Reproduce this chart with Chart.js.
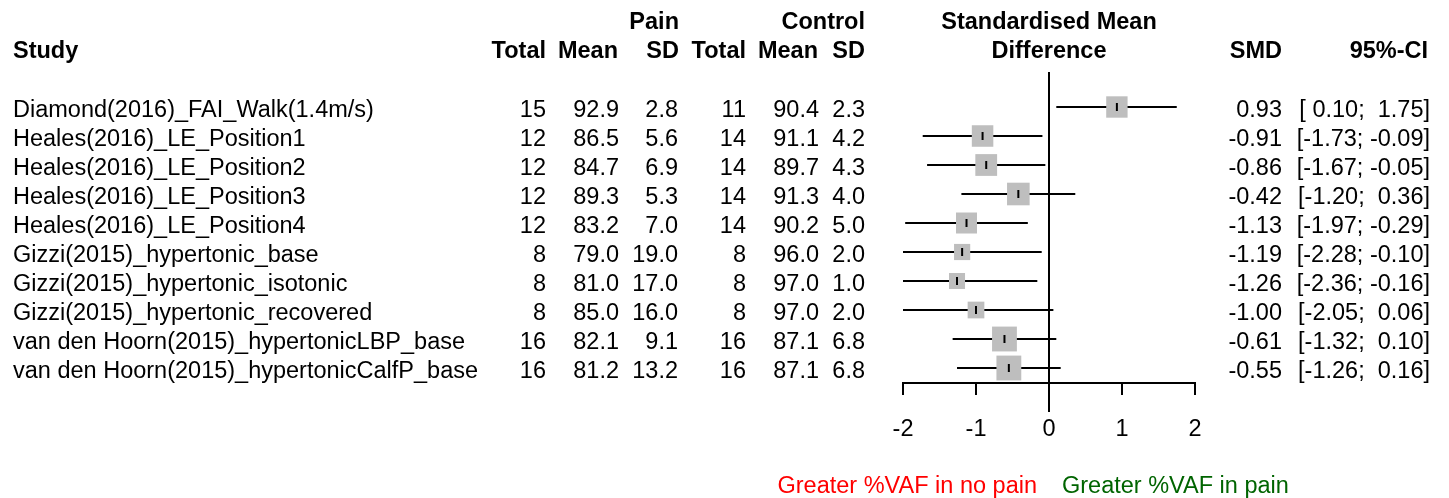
<!DOCTYPE html>
<html>
<head>
<meta charset="utf-8">
<script src="https://cdn.jsdelivr.net/npm/chart.js@4/dist/chart.umd.min.js"></script>
<style>
  html, body { margin: 0; padding: 0; background: #fff; }
  canvas { display: block; }
</style>
</head>
<body>
<canvas id="forest" width="1449" height="498"></canvas>
<script>
const studies = [
  "Diamond(2016)_FAI_Walk(1.4m/s)",
  "Heales(2016)_LE_Position1",
  "Heales(2016)_LE_Position2",
  "Heales(2016)_LE_Position3",
  "Heales(2016)_LE_Position4",
  "Gizzi(2015)_hypertonic_base",
  "Gizzi(2015)_hypertonic_isotonic",
  "Gizzi(2015)_hypertonic_recovered",
  "van den Hoorn(2015)_hypertonicLBP_base",
  "van den Hoorn(2015)_hypertonicCalfP_base"
];
const painTotal = [15, 12, 12, 12, 12, 8, 8, 8, 16, 16];
const painMean  = [92.9, 86.5, 84.7, 89.3, 83.2, 79.0, 81.0, 85.0, 82.1, 81.2];
const painSD    = [2.8, 5.6, 6.9, 5.3, 7.0, 19.0, 17.0, 16.0, 9.1, 13.2];
const ctlTotal  = [11, 14, 14, 14, 14, 8, 8, 8, 16, 16];
const ctlMean   = [90.4, 91.1, 89.7, 91.3, 90.2, 96.0, 97.0, 97.0, 87.1, 87.1];
const ctlSD     = [2.3, 4.2, 4.3, 4.0, 5.0, 2.0, 1.0, 2.0, 6.8, 6.8];
const smd       = [0.93, -0.91, -0.86, -0.42, -1.13, -1.19, -1.26, -1.00, -0.61, -0.55];
const ciLow     = [0.10, -1.73, -1.67, -1.20, -1.97, -2.28, -2.36, -2.05, -1.32, -1.26];
const ciHigh    = [1.75, -0.09, -0.05, 0.36, -0.29, -0.10, -0.16, 0.06, 0.10, 0.16];
const xTicks    = [-2, -1, 0, 1, 2];

const FONT = "23.5px 'Liberation Sans', Arial, sans-serif";
const BOLD = "bold 23.5px 'Liberation Sans', Arial, sans-serif";

// R-style padded number: positives get a leading space where the minus would be
const pad = (v) => (v < 0 ? "" : " ") + v.toFixed(2);

// box side ~ 1/SE, SE taken back from the 95% CI width
const boxRadius = (i) => {
  const se = (ciHigh[i] - ciLow[i]) / 3.92;
  return (9 / se) / Math.SQRT2;
};

const ciDatasets = studies.map((s, i) => ({
  data: [{ x: ciLow[i], y: i }, { x: ciHigh[i], y: i }],
  showLine: true,
  borderColor: "#000",
  borderWidth: 2,
  pointRadius: 0,
  order: 2
}));

const tablePlugin = {
  id: "table",
  afterDraw(chart) {
    const { ctx, chartArea } = chart;
    const y = chart.scales.y, x = chart.scales.x;
    ctx.save();
    ctx.fillStyle = "#000";

    // zero line, runs past the axis like base R
    const x0 = Math.round(x.getPixelForValue(0));
    ctx.strokeStyle = "#000";
    ctx.lineWidth = 2;
    ctx.beginPath();
    ctx.moveTo(x0, chartArea.top);
    ctx.lineTo(x0, chartArea.bottom + 29);
    ctx.stroke();

    const text = (str, px, py, align, font) => {
      ctx.font = font || FONT;
      ctx.textAlign = align;
      ctx.fillText(str, px, py);
    };

    // headers
    text("Pain", 679, 29, "right", BOLD);
    text("Control", 865, 29, "right", BOLD);
    text("Standardised Mean", x0, 29, "center", BOLD);
    text("Study", 13, 58, "left", BOLD);
    text("Total", 546, 58, "right", BOLD);
    text("Mean", 618, 58, "right", BOLD);
    text("SD", 679, 58, "right", BOLD);
    text("Total", 746, 58, "right", BOLD);
    text("Mean", 818, 58, "right", BOLD);
    text("SD", 865, 58, "right", BOLD);
    text("Difference", x0, 58, "center", BOLD);
    text("SMD", 1282, 58, "right", BOLD);
    text("95%-CI", 1428, 58, "right", BOLD);

    studies.forEach((s, i) => {
      const by = y.getPixelForValue(i) + 9.5;
      text(s, 13, by, "left");
      text(String(painTotal[i]), 546, by, "right");
      text(painMean[i].toFixed(1), 619, by, "right");
      text(painSD[i].toFixed(1), 678, by, "right");
      text(String(ctlTotal[i]), 746, by, "right");
      text(ctlMean[i].toFixed(1), 819, by, "right");
      text(ctlSD[i].toFixed(1), 865, by, "right");
      text(smd[i].toFixed(2), 1282, by, "right");
      text("[" + pad(ciLow[i]) + "; " + pad(ciHigh[i]) + "]", 1430, by, "right");
    });

    // direction labels under the axis
    ctx.fillStyle = "#ff0000";
    text("Greater %VAF in no pain", x0 - 12, 493, "right");
    ctx.fillStyle = "#006400";
    text("Greater %VAF in pain", x0 + 13, 493, "left");
    ctx.restore();
  }
};

new Chart(document.getElementById("forest"), {
  type: "scatter",
  data: {
    datasets: [
      {
        data: smd.map((v, i) => ({ x: v, y: i })),
        pointStyle: "line",
        rotation: 90,
        pointRadius: 4,
        borderColor: "#000",
        borderWidth: 2,
        order: 0
      },
      {
        data: smd.map((v, i) => ({ x: v, y: i })),
        pointStyle: "rect",
        pointRadius: (c) => boxRadius(c.dataIndex),
        backgroundColor: "#bebebe",
        borderWidth: 0,
        order: 1
      },
      ...ciDatasets
    ]
  },
  options: {
    responsive: false,
    animation: false,
    devicePixelRatio: 1,
    events: [],
    layout: { padding: { left: 903, right: 254, top: 72, bottom: 0 } },
    plugins: { legend: { display: false }, tooltip: { enabled: false } },
    scales: {
      x: {
        type: "linear",
        min: -2,
        max: 2,
        afterBuildTicks: (s) => { s.ticks = xTicks.map(v => ({ value: v })); },
        afterFit: (s) => { s.height = 115; },
        border: { display: true, color: "#000", width: 2 },
        grid: { drawOnChartArea: false, drawTicks: true, tickLength: 12, tickColor: "#000", lineWidth: 2 },
        ticks: { color: "#000", padding: 20, font: { family: "'Liberation Sans', Arial, sans-serif", size: 23.5 } }
      },
      y: {
        type: "linear",
        display: false,
        reverse: true,
        min: -1.207,
        max: 9.517
      }
    }
  },
  plugins: [tablePlugin]
});
</script>
</body>
</html>
